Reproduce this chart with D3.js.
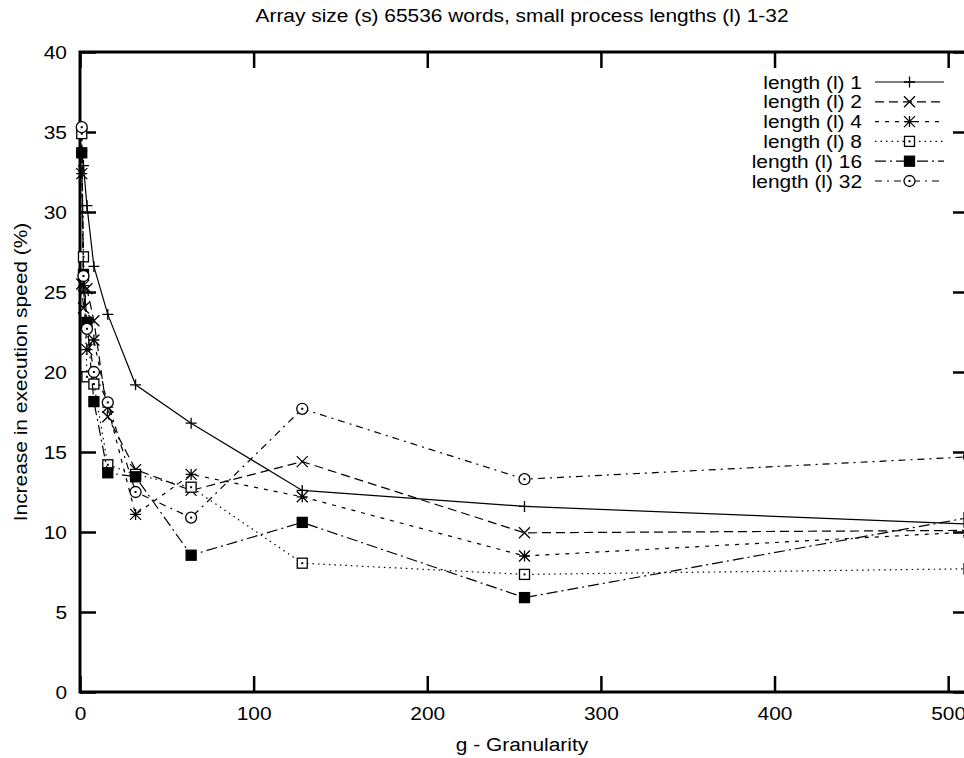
<!DOCTYPE html>
<html>
<head>
<meta charset="utf-8">
<script src="https://cdn.jsdelivr.net/npm/d3@7"></script>
<style>
  body { margin: 0; background: #fff; }
  text { font-family: "Liberation Sans", Arial, Helvetica, sans-serif; fill: #000; }
</style>
</head>
<body>
<div id="chart"></div>
<script>
var svgWidth = 964;
var svgHeight = 758;
var margin = {top: 52, right: -5, bottom: 66, left: 80};
var width = svgWidth - margin.left - margin.right;   // plot runs a little past the right edge
var height = svgHeight - margin.top - margin.bottom;

// data
var granularity = [1, 2, 4, 8, 16, 32, 64, 128, 256, 512];
var len1  = [33.8, 32.9, 30.4, 26.6, 23.6, 19.2, 16.8, 12.6, 11.6, 10.5];
var len2  = [25.5, 24.0, 25.2, 23.2, 17.2, 13.9, 12.6, 14.4, 9.95, 10.1];
var len4  = [32.4, 25.4, 21.4, 22.0, 17.8, 11.1, 13.6, 12.2, 8.5, 10.0];
var len8  = [34.9, 27.2, 19.7, 19.25, 14.2, 13.6, 12.8, 8.05, 7.35, 7.7];
var len16 = [33.7, 26.1, 23.1, 18.15, 13.7, 13.45, 8.55, 10.6, 5.9, 10.9];
var len32 = [35.3, 26.0, 22.7, 20.0, 18.1, 12.5, 10.9, 17.7, 13.3, 14.7];
var seriesNames = ["length (l) 1", "length (l) 2", "length (l) 4", "length (l) 8", "length (l) 16", "length (l) 32"];
var xTicks = [0, 100, 200, 300, 400, 500];
var yTicks = [0, 5, 10, 15, 20, 25, 30, 35, 40];

var allSeries = [len1, len2, len4, len8, len16, len32];
var dashes = ["none", "9,5", "4,6", "1.5,4", "11,4,2,4", "7,5,2,5"];
var markers = ["plus", "cross", "star", "box", "boxfill", "circle"];

var fontSize = 19;
var stretch = 1.1;   // gnuplot text is a bit wider than Liberation Sans

var svg = d3.select("#chart")
  .append("svg")
  .attr("width", svgWidth)
  .attr("height", svgHeight);

var chart = svg.append("g")
  .attr("transform", "translate(" + margin.left + "," + margin.top + ")");

var xScale = d3.scaleLinear().domain([0, 512]).range([0, width]);
var yScale = d3.scaleLinear().domain([0, 40]).range([height, 0]);

// tick marks pointing inward, gnuplot style
var tickLen = 16;
var bottomAxis = d3.axisBottom(xScale).tickValues(xTicks).tickSizeInner(-tickLen).tickSizeOuter(0).tickPadding(15);
var topAxis = d3.axisTop(xScale).tickValues(xTicks).tickSizeInner(-tickLen).tickSizeOuter(0).tickFormat("");
var leftAxis = d3.axisLeft(yScale).tickValues(yTicks).tickSizeInner(-tickLen).tickSizeOuter(0).tickPadding(13);
var rightAxis = d3.axisRight(yScale).tickValues(yTicks).tickSizeInner(-tickLen).tickSizeOuter(0).tickFormat("");

function styleAxis(g) {
  g.select(".domain").remove();
  g.selectAll(".tick line").attr("stroke", "#000").attr("stroke-width", 2.5);
  g.selectAll(".tick text").attr("font-size", fontSize + "px").attr("fill", "#000")
    .attr("font-family", "Liberation Sans, Arial, sans-serif");
}

chart.append("g").attr("transform", "translate(0," + height + ")").call(bottomAxis).call(styleAxis)
  .selectAll(".tick text")
  .attr("transform", "scale(" + stretch + ",1)");
chart.append("g").call(topAxis).call(styleAxis);
chart.append("g").call(leftAxis).call(styleAxis)
  .selectAll(".tick text")
  .attr("transform", "scale(" + stretch + ",1)")
  .attr("x", -13 / stretch);
chart.append("g").attr("transform", "translate(" + width + ",0)").call(rightAxis).call(styleAxis);

chart.append("rect")
  .attr("x", 0).attr("y", 0)
  .attr("width", width).attr("height", height)
  .attr("fill", "none")
  .attr("stroke", "#000")
  .attr("stroke-width", 3);

// marker shapes
function markerPath(type, s) {
  var h = s / 2;
  if (type === "plus") return "M" + (-h) + ",0H" + h + "M0," + (-h) + "V" + h;
  if (type === "cross") return "M" + (-h) + "," + (-h) + "L" + h + "," + h + "M" + (-h) + "," + h + "L" + h + "," + (-h);
  if (type === "star") return "M" + (-h) + ",0H" + h + "M0," + (-h) + "V" + h +
    "M" + (-h) + "," + (-h) + "L" + h + "," + h + "M" + (-h) + "," + h + "L" + h + "," + (-h);
  return "";
}

function drawMarker(g, type, x, y) {
  var s = 11;
  if (type === "box" || type === "boxfill") {
    g.append("rect")
      .attr("x", x - 5).attr("y", y - 5).attr("width", 10).attr("height", 10)
      .attr("fill", type === "boxfill" ? "#000" : "#fff")
      .attr("stroke", "#000").attr("stroke-width", 1.3);
    if (type === "box") g.append("rect").attr("x", x - 1).attr("y", y - 1).attr("width", 2).attr("height", 2).attr("fill", "#000");
  } else if (type === "circle") {
    g.append("circle").attr("cx", x).attr("cy", y).attr("r", 5.5)
      .attr("fill", "#fff").attr("stroke", "#000").attr("stroke-width", 1.3);
    g.append("rect").attr("x", x - 1).attr("y", y - 1).attr("width", 2).attr("height", 2).attr("fill", "#000");
  } else {
    g.append("path").attr("transform", "translate(" + x + "," + y + ")")
      .attr("d", markerPath(type, s))
      .attr("stroke", "#000").attr("stroke-width", 1.3).attr("fill", "none");
  }
}

var line = d3.line()
  .x(function(d) { return xScale(d[0]); })
  .y(function(d) { return yScale(d[1]); });

var plot = chart.append("g");

allSeries.forEach(function(values, i) {
  var pts = granularity.map(function(g, j) { return [g, values[j]]; });
  plot.append("path")
    .datum(pts)
    .attr("d", line)
    .attr("fill", "none")
    .attr("stroke", "#000")
    .attr("stroke-width", 1.2)
    .attr("stroke-dasharray", dashes[i]);
  var mg = plot.append("g");
  pts.forEach(function(p) {
    drawMarker(mg, markers[i], xScale(p[0]), yScale(p[1]));
  });
});

function stretchedText(parent, x, y, anchor, str) {
  return parent.append("text")
    .attr("transform", "translate(" + x + "," + y + ") scale(" + stretch + ",1)")
    .attr("text-anchor", anchor)
    .attr("font-size", fontSize + "px")
    .text(str);
}

// legend
var legend = svg.append("g");
seriesNames.forEach(function(name, i) {
  var y = 82 + i * 19.8;
  stretchedText(legend, 862, y + 6.5, "end", name);
  legend.append("line")
    .attr("x1", 875).attr("x2", 944)
    .attr("y1", y).attr("y2", y)
    .attr("stroke", "#000").attr("stroke-width", 1.2)
    .attr("stroke-dasharray", dashes[i]);
  drawMarker(legend, markers[i], 909.5, y);
});

// titles
stretchedText(svg, margin.left + (width - 5) / 2, 22, "middle",
  "Array size (s) 65536 words, small process lengths (l) 1-32");

stretchedText(svg, margin.left + (width - 5) / 2, 751, "middle", "g - Granularity");

svg.append("text")
  .attr("transform", "translate(27," + (margin.top + height / 2) + ") rotate(-90) scale(" + stretch + ",1)")
  .attr("text-anchor", "middle")
  .attr("font-size", fontSize + "px")
  .text("Increase in execution speed (%)");
</script>
</body>
</html>
